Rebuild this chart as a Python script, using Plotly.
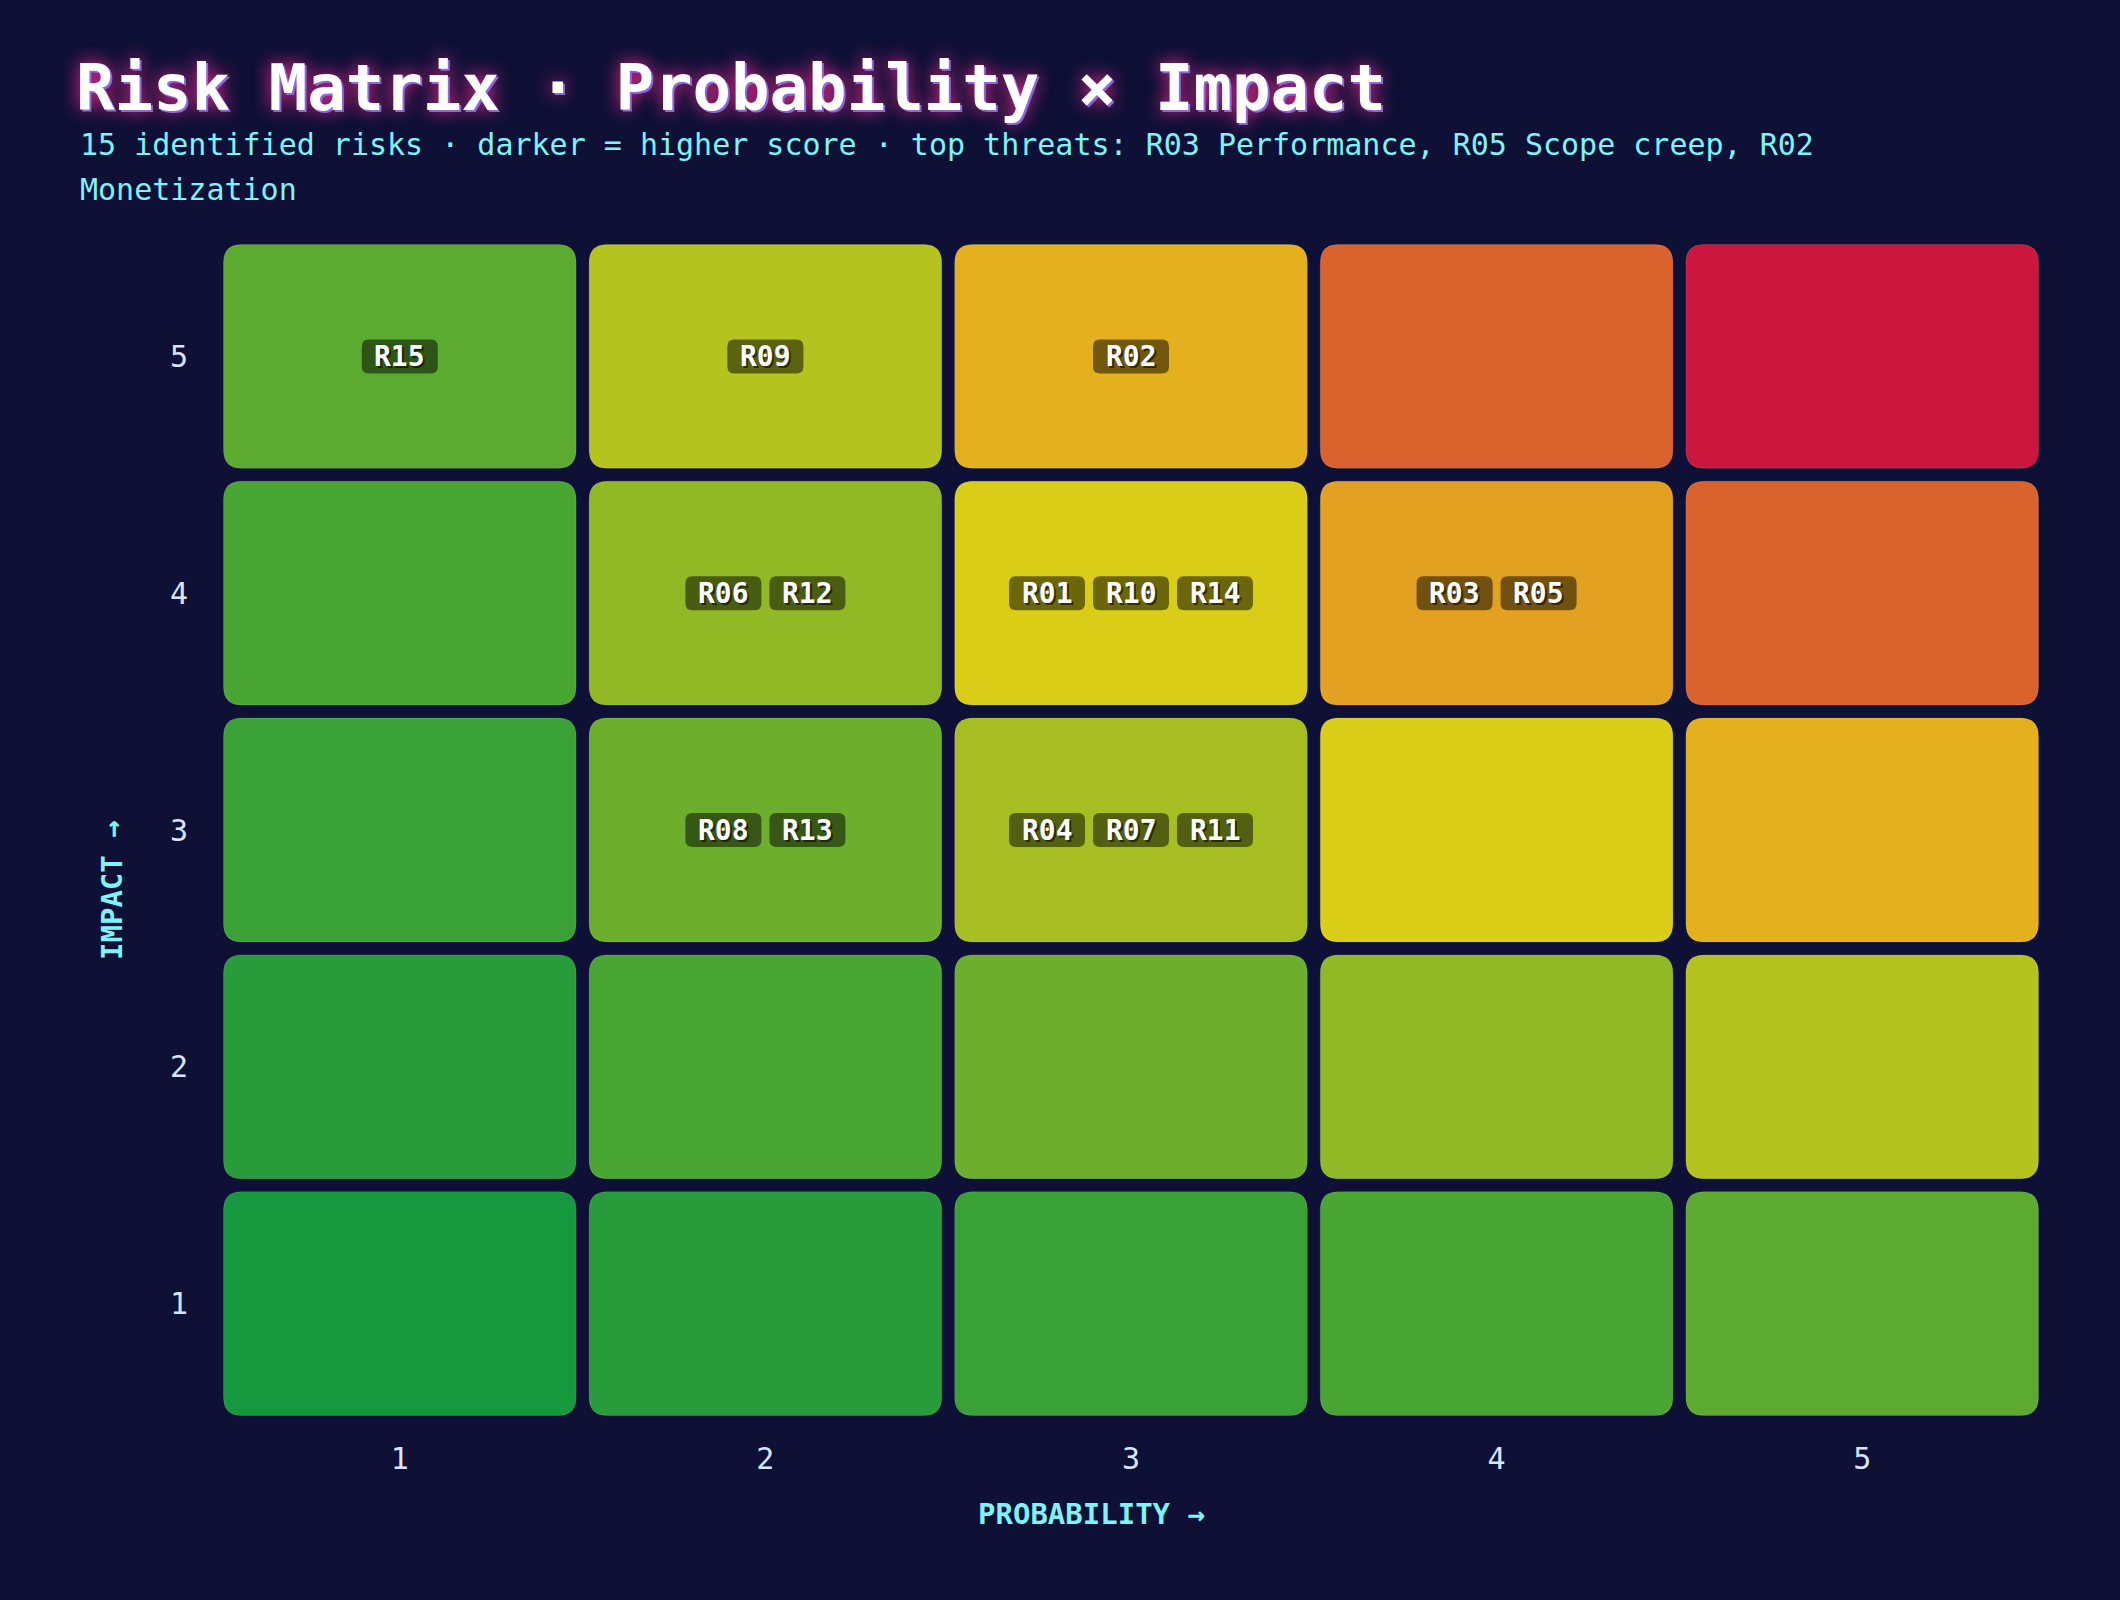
import plotly.graph_objects as go

# ---------------- data ----------------
probability_levels = [1, 2, 3, 4, 5]
impact_levels = [1, 2, 3, 4, 5]
tick_labels = ["1", "2", "3", "4", "5"]

risk_ids = ["R01", "R02", "R03", "R04", "R05", "R06", "R07", "R08",
            "R09", "R10", "R11", "R12", "R13", "R14", "R15"]
risk_probability = [3, 3, 4, 3, 4, 2, 3, 2, 2, 3, 3, 2, 2, 3, 1]
risk_impact = [4, 5, 4, 3, 4, 4, 3, 3, 5, 4, 3, 4, 3, 4, 5]

# colour per score (probability x impact)
score_colors = {
    1: "#16983f", 2: "#289c3b", 3: "#39a136", 4: "#4aa632", 5: "#5caa30",
    6: "#6daf2c", 8: "#91b825", 9: "#a6be22", 10: "#b5c31f", 12: "#d9cd17",
    15: "#e4b01e", 16: "#e3a121", 20: "#da632d", 25: "#cc163d",
}

title_text = "Risk Matrix · Probability × Impact"
subtitle_lines = [
    "15 identified risks · darker = higher score · top threats: "
    "R03 Performance, R05 Scope creep, R02",
    "Monetization",
]
x_title = "PROBABILITY →"
y_title = "IMPACT →"

# ---------------- layout geometry ----------------
W, H = 2120, 1600
ML, MR, MT, MB = 217, 75, 238, 178
PW, PH = W - ML - MR, H - MT - MB
px_x = PW / 5.0
px_y = PH / 5.0
HALF_GAP = 6.5
RADIUS = 18

BG = "#0e1036"
CYAN = "#7ff3fb"
TICK = "#dbe4ff"
MONO = "DejaVu Sans Mono"


def rrect(x0, x1, y0, y1, rx, ry):
    return (f"M{x0+rx},{y0} L{x1-rx},{y0} Q{x1},{y0} {x1},{y0+ry} "
            f"L{x1},{y1-ry} Q{x1},{y1} {x1-rx},{y1} L{x0+rx},{y1} "
            f"Q{x0},{y1} {x0},{y1-ry} L{x0},{y0+ry} Q{x0},{y0} {x0+rx},{y0} Z")


def paper_y(py):
    return (MT + PH - py) / PH


def paper_x(px):
    return (px - ML) / PW


shapes = []
annotations = []

# cells
gx, gy = HALF_GAP / px_x, HALF_GAP / px_y
rx, ry = RADIUS / px_x, RADIUS / px_y
for imp in impact_levels:
    for p in probability_levels:
        col = score_colors[p * imp]
        shapes.append(dict(
            type="path", xref="x", yref="y",
            path=rrect(p - 0.5 + gx, p + 0.5 - gx, imp - 0.5 + gy, imp + 0.5 - gy, rx, ry),
            fillcolor=col, line=dict(color="rgba(255,255,255,0.12)", width=1),
            layer="below",
        ))

# badges
BW, BH, BG_GAP, BR = 76, 34, 8, 7
cells = {}
for rid, p, imp in zip(risk_ids, risk_probability, risk_impact):
    cells.setdefault((p, imp), []).append(rid)

for (p, imp), ids in cells.items():
    ids = sorted(ids)
    n = len(ids)
    total = n * BW + (n - 1) * BG_GAP
    start = -total / 2.0
    for k, rid in enumerate(ids):
        left_px = start + k * (BW + BG_GAP)
        cx = p + (left_px + BW / 2.0) / px_x
        x0 = p + left_px / px_x
        x1 = p + (left_px + BW) / px_x
        y0 = imp - (BH / 2.0) / px_y
        y1 = imp + (BH / 2.0) / px_y
        shapes.append(dict(
            type="path", xref="x", yref="y",
            path=rrect(x0, x1, y0, y1, BR / px_x, BR / px_y),
            fillcolor="rgba(0,0,0,0.5)", line=dict(width=0),
            layer="above",
        ))
        annotations.append(dict(
            x=cx, y=imp, xref="x", yref="y", text=rid, showarrow=False,
            xanchor="center", yanchor="middle",
            font=dict(family=MONO, size=28, color="#ffffff", weight=700,
                      shadow="2px 2px 0px rgba(0,0,0,0.55)"),
        ))

# subtitle (two lines)
for line, cy in zip(subtitle_lines, [145, 190]):
    annotations.append(dict(
        xref="paper", yref="paper", x=paper_x(78), y=paper_y(cy),
        xanchor="left", yanchor="middle", align="left", showarrow=False,
        text=line,
        font=dict(family=MONO, size=30, color=CYAN),
    ))

# axis titles
annotations.append(dict(
    xref="paper", yref="paper", x=paper_x(1091), y=paper_y(1514),
    xanchor="center", yanchor="middle", showarrow=False, text=x_title,
    font=dict(family=MONO, size=29, color=CYAN, weight=700),
))
annotations.append(dict(
    xref="paper", yref="paper", x=paper_x(112), y=paper_y(890),
    xanchor="center", yanchor="middle", showarrow=False, text=y_title,
    textangle=-90,
    font=dict(family=MONO, size=29, color=CYAN, weight=700),
))

fig = go.Figure()
# invisible anchor trace so axes are laid out by the library
fig.add_trace(go.Scatter(
    x=[p for p in probability_levels for _ in impact_levels],
    y=[i for _ in probability_levels for i in impact_levels],
    mode="markers", marker=dict(opacity=0), hoverinfo="skip", showlegend=False,
))

fig.update_layout(
    width=W, height=H,
    margin=dict(l=ML, r=MR, t=MT, b=MB),
    paper_bgcolor=BG, plot_bgcolor=BG,
    showlegend=False,
    title=dict(
        text=title_text, xref="container", yref="container",
        x=76 / W, xanchor="left", y=1 - 88 / H, yanchor="middle",
        font=dict(family=MONO, size=64, color="#ffffff", weight=700,
                  shadow="2px 2px 0px #8a6ad8, 0px 0px 18px #ff2d95"),
    ),
    xaxis=dict(
        range=[0.5, 5.5], tickvals=probability_levels, ticktext=tick_labels,
        showgrid=False, zeroline=False, showline=False, ticks="",
        tickfont=dict(family=MONO, size=30, color=TICK),
        ticklabelstandoff=16, fixedrange=True,
    ),
    yaxis=dict(
        range=[0.5, 5.5], tickvals=impact_levels, ticktext=tick_labels,
        showgrid=False, zeroline=False, showline=False, ticks="",
        tickfont=dict(family=MONO, size=30, color=TICK),
        ticklabelstandoff=28, fixedrange=True,
    ),
    shapes=shapes,
    annotations=annotations,
)

fig.write_html("out.html")
